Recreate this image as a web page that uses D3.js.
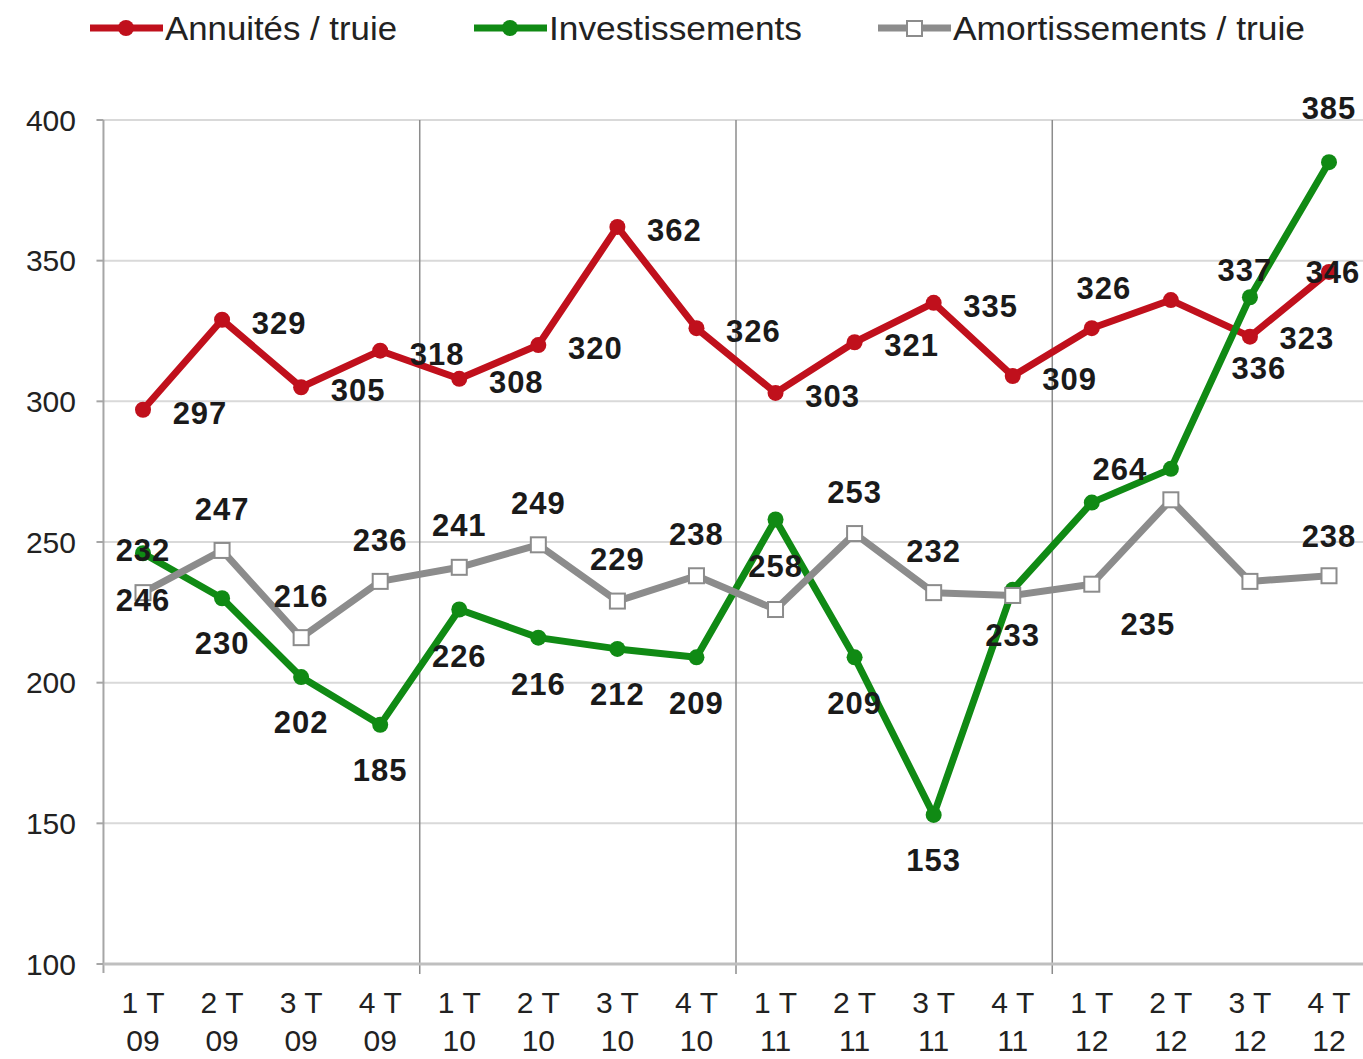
<!DOCTYPE html>
<html><head><meta charset="utf-8">
<script src="https://cdn.jsdelivr.net/npm/d3@7"></script>
<style>body{margin:0;background:#fff}svg{display:block;font-family:"Liberation Sans",Arial,sans-serif}</style>
</head><body><svg id="c" width="1363" height="1059"></svg>
<script>
const quarters = ["1T","2T","3T","4T","1T","2T","3T","4T","1T","2T","3T","4T","1T","2T","3T","4T"];
const years    = ["09","09","09","09","10","10","10","10","11","11","11","11","12","12","12","12"];
const annuites = [297,329,305,318,308,320,362,326,303,321,335,309,326,336,323,346];
const investissements = [246,230,202,185,226,216,212,209,258,209,153,233,264,276,337,385];
const amortissements = [232,247,216,236,241,249,229,238,226,253,232,231,235,265,236,238];
const yTicks = [100,150,200,250,300,350,400];
const seriesNames = ["Annuités / truie","Investissements","Amortissements / truie"];

// label offsets (layout only): [dx, dy] relative to point, null = no label
const offRed = [[57,3],[57,3],[57,3],[57,3],[57,3],[57,3],[57,3],[57,3],[57,3],[57,3],[57,3],[57,3],[12,-40],[88,68],[57,1],[4,0]];
const offGreen = [[0,47],[0,45],[0,45],[0,45],[0,46],[0,46],[0,45],[0,45],[0,46],[0,45],[0,45],[0,45],[28,-34],null,[-5,-27],[0,-54]];
const offGrey = [[0,-43],[0,-42],[0,-42],[0,-42],[0,-42],[0,-42],[0,-42],[0,-42],null,[0,-42],[0,-42],null,[56,40],null,null,[0,-40]];

const svg = d3.select("#c");
const idx = d3.range(quarters.length);
const x = d3.scalePoint().domain(idx).range([143,1329]);
const step = x.step();
const y = d3.scaleLinear().domain([100,400]).range([964,120]);
const left = x(0) - step/2;

// horizontal gridlines
svg.append("g").selectAll("line").data(yTicks.filter(d=>d>100)).join("line")
  .attr("x1",left).attr("x2",1363).attr("y1",d=>y(d)).attr("y2",d=>y(d))
  .attr("stroke","#d9d9d9").attr("stroke-width",2);

// y axis
svg.append("line").attr("x1",left).attr("x2",left).attr("y1",y(400)).attr("y2",y(100)+9)
  .attr("stroke","#a6a6a6").attr("stroke-width",2);
svg.append("g").selectAll("line").data(yTicks).join("line")
  .attr("x1",left-7).attr("x2",left).attr("y1",d=>y(d)).attr("y2",d=>y(d))
  .attr("stroke","#a6a6a6").attr("stroke-width",2);
svg.append("g").selectAll("text").data(yTicks).join("text")
  .attr("x",76).attr("y",d=>y(d)).attr("dy","0.36em").attr("text-anchor","end")
  .attr("font-size",30).attr("fill","#222").text(d=>d);

// year separators
const seps = [4,8,12];
svg.append("g").selectAll("line").data(seps).join("line")
  .attr("x1",d=>x(d)-step/2).attr("x2",d=>x(d)-step/2).attr("y1",y(400)).attr("y2",y(100)+10)
  .attr("stroke","#8c8c8c").attr("stroke-width",1.5);

// x axis line
svg.append("line").attr("x1",left).attr("x2",1363).attr("y1",y(100)).attr("y2",y(100))
  .attr("stroke","#bfbfbf").attr("stroke-width",3);

// x labels
const xl = svg.append("g").selectAll("g").data(idx).join("g");
xl.append("text").attr("x",d=>x(d)).attr("y",1002).attr("dy","0.36em").attr("text-anchor","middle")
  .attr("font-size",30).attr("fill","#222")
  .each(function(d){
    const t=d3.select(this);
    t.append("tspan").text(quarters[d][0]);
    t.append("tspan").attr("dx",8).text(quarters[d].slice(1));
  });
xl.append("text").attr("x",d=>x(d)).attr("y",1040).attr("dy","0.36em").attr("text-anchor","middle")
  .attr("font-size",30).attr("fill","#222").text(d=>years[d]);

const line = d3.line().x((d,i)=>x(i)).y(d=>y(d));
const red="#c0101c", green="#108a14", grey="#8c8c8c";

function drawSeries(vals,color,marker){
  svg.append("path").datum(vals).attr("d",line).attr("fill","none")
    .attr("stroke",color).attr("stroke-width",7).attr("stroke-linejoin","round");
  if(marker==="circle"){
    svg.append("g").selectAll("circle").data(vals).join("circle")
      .attr("cx",(d,i)=>x(i)).attr("cy",d=>y(d)).attr("r",8).attr("fill",color);
  } else {
    svg.append("g").selectAll("rect").data(vals).join("rect")
      .attr("x",(d,i)=>x(i)-7.5).attr("y",d=>y(d)-7.5).attr("width",15).attr("height",15)
      .attr("fill","#fff").attr("stroke",color).attr("stroke-width",2);
  }
}
drawSeries(annuites,red,"circle");
drawSeries(investissements,green,"circle");
drawSeries(amortissements,grey,"square");

function drawLabels(vals,offs){
  const data = vals.map((v,i)=>({v,i,o:offs[i]})).filter(d=>d.o);
  svg.append("g").selectAll("text").data(data).join("text")
    .attr("x",d=>x(d.i)+d.o[0]).attr("y",d=>y(d.v)+d.o[1]).attr("dy","0.36em")
    .attr("text-anchor","middle").attr("font-size",31).attr("font-weight","bold")
    .attr("letter-spacing",1).attr("fill","#1a1a1a").text(d=>d.v);
}
drawLabels(annuites,offRed);
drawLabels(investissements,offGreen);
drawLabels(amortissements,offGrey);

// legend
const legend = [
  {name:seriesNames[0],color:red,marker:"circle",x0:90,tw:232},
  {name:seriesNames[1],color:green,marker:"circle",x0:474,tw:253},
  {name:seriesNames[2],color:grey,marker:"square",x0:878,tw:352}
];
const lg = svg.append("g").selectAll("g").data(legend).join("g");
lg.append("line").attr("x1",d=>d.x0).attr("x2",d=>d.x0+73).attr("y1",28).attr("y2",28)
  .attr("stroke",d=>d.color).attr("stroke-width",7);
lg.filter(d=>d.marker==="circle").append("circle").attr("cx",d=>d.x0+36).attr("cy",28).attr("r",8).attr("fill",d=>d.color);
lg.filter(d=>d.marker==="square").append("rect").attr("x",d=>d.x0+29).attr("y",21).attr("width",15).attr("height",15)
  .attr("fill","#fff").attr("stroke",d=>d.color).attr("stroke-width",2);
lg.append("text").attr("x",d=>d.x0+75).attr("y",28).attr("dy","0.36em").attr("font-size",33)
  .attr("fill","#222").attr("textLength",d=>d.tw).attr("lengthAdjust","spacingAndGlyphs").text(d=>d.name);
</script></body></html>
